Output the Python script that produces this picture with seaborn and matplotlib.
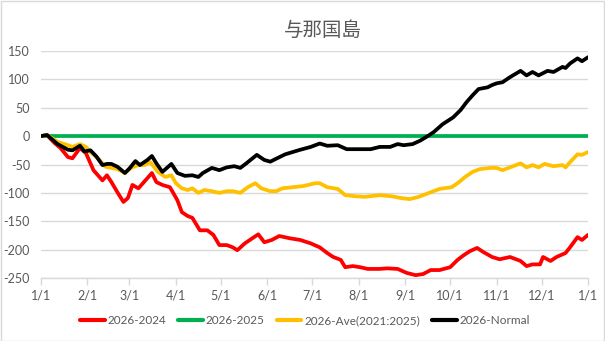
import numpy as np
import pandas as pd
import matplotlib
matplotlib.use("Agg")
import matplotlib.pyplot as plt
import seaborn as sns

# Cumulative difference series (day of year -> value)
RED_DAYS = [0, 4, 9, 13, 18, 21, 26, 30, 33, 35, 39, 41, 44, 47, 51, 55, 58, 61, 65, 68,
            74, 77, 81, 86, 88, 91, 94, 98, 101, 106, 111, 115, 119, 124, 128, 131, 136,
            141, 145, 149, 154, 159, 166, 173, 180, 186, 191, 195, 200, 203, 208, 213,
            218, 226, 231, 238, 244, 250, 255, 260, 266, 273, 278, 282, 286, 291, 295,
            301, 306, 313, 320, 324, 328, 333, 335, 340, 344, 350, 353, 358, 361, 365]
RED_VALS = [0, 2, -12, -21, -37, -39, -21, -30, -48, -60, -72, -78, -69, -81, -99, -116,
            -109, -86, -92, -83, -65, -81, -86, -90, -99, -113, -134, -141, -144, -166,
            -166, -174, -192, -192, -196, -201, -189, -180, -173, -187, -183, -176, -180,
            -183, -189, -196, -206, -213, -218, -231, -229, -231, -234, -234, -233, -234,
            -241, -245, -243, -236, -236, -231, -218, -210, -203, -197, -204, -213, -217,
            -213, -220, -229, -226, -226, -213, -220, -213, -206, -196, -178, -183, -174]

GREEN_DAYS = [0, 365]
GREEN_VALS = [0, 0]

YEL_DAYS = [0, 4, 11, 18, 21, 26, 30, 33, 38, 43, 47, 51, 56, 60, 65, 69, 73, 78, 83, 87,
            90, 94, 98, 101, 105, 109, 114, 119, 124, 128, 133, 138, 143, 147, 153, 157,
            161, 168, 175, 183, 186, 191, 198, 203, 210, 216, 226, 234, 240, 246, 252,
            259, 266, 274, 278, 283, 288, 293, 300, 304, 308, 313, 320, 324, 328, 332,
            336, 342, 348, 350, 353, 358, 361, 365]
YEL_VALS = [0, 2, -10, -16, -19, -14, -19, -28, -39, -54, -56, -58, -65, -56, -51, -51,
            -46, -63, -72, -69, -83, -92, -95, -92, -100, -95, -97, -100, -97, -97, -100,
            -90, -83, -92, -97, -97, -92, -90, -88, -83, -83, -90, -93, -104, -106, -107,
            -104, -106, -109, -111, -107, -100, -93, -90, -83, -72, -63, -58, -56, -56,
            -60, -55, -48, -55, -51, -55, -49, -53, -51, -55, -46, -32, -33, -28]

BLK_DAYS = [0, 4, 11, 18, 21, 26, 29, 33, 37, 41, 44, 47, 51, 56, 59, 63, 66, 71, 74, 77,
            81, 87, 91, 96, 101, 105, 108, 114, 119, 124, 129, 133, 137, 144, 149, 153,
            156, 163, 168, 173, 180, 186, 191, 198, 204, 212, 220, 226, 233, 238, 242,
            248, 253, 258, 262, 268, 275, 280, 284, 288, 292, 298, 301, 304, 308, 313,
            320, 324, 328, 332, 338, 342, 348, 350, 353, 358, 361, 365]
BLK_VALS = [0, 2, -14, -24, -25, -17, -27, -25, -36, -51, -49, -49, -54, -65, -57, -44,
            -51, -42, -35, -48, -63, -49, -65, -70, -69, -72, -65, -56, -60, -55, -53, -56,
            -48, -33, -42, -45, -41, -32, -28, -24, -19, -13, -17, -16, -23, -23, -23, -19,
            -19, -14, -16, -14, -8, 0, 7, 21, 33, 46, 60, 72, 83, 86, 90, 93, 95, 104, 115,
            107, 113, 107, 115, 113, 122, 120, 128, 137, 132, 139]

SERIES = [
    ("2026-2024", RED_DAYS, RED_VALS, "#FF0000"),
    ("2026-2025", GREEN_DAYS, GREEN_VALS, "#00B050"),
    ("2026-Ave(2021:2025)", YEL_DAYS, YEL_VALS, "#FFC000"),
    ("2026-Normal", BLK_DAYS, BLK_VALS, "#000000"),
]

TITLE = "与那国島"
Y_TICKS = [-250, -200, -150, -100, -50, 0, 50, 100, 150]
X_TICK_LABELS = ["1/1", "2/1", "3/1", "4/1", "5/1", "6/1", "7/1", "8/1", "9/1",
                 "10/1", "11/1", "12/1", "1/1"]

sns.set_theme(style="white")
plt.rcParams["font.family"] = ["Lato", "Noto Sans CJK JP", "DejaVu Sans"]

TXT = "#595959"
GRID = "#D9D9D9"

fig = plt.figure(figsize=(6.05, 3.41), dpi=100)
ax = fig.add_axes([41 / 605, 1 - 278 / 341, 547 / 605, 227 / 341])

frames = []
for name, days, vals, color in SERIES:
    frames.append(pd.DataFrame({"day": days, "value": vals, "series": name}))
df = pd.concat(frames, ignore_index=True)

palette = {name: color for name, _, _, color in SERIES}
sns.lineplot(data=df, x="day", y="value", hue="series", palette=palette,
             hue_order=[s[0] for s in SERIES], linewidth=2.7, ax=ax,
             estimator=None, sort=True, legend=True)

month_starts = pd.date_range("2026-01-01", "2027-01-01", freq="MS")
tick_pos = [(d - pd.Timestamp("2026-01-01")).days for d in month_starts]
ax.set_xticks(tick_pos)
ax.set_xticklabels(X_TICK_LABELS)
ax.set_xlim(0, 365)
ax.set_ylim(-250, 150)
ax.set_yticks(Y_TICKS)
ax.set_yticklabels([str(v) for v in Y_TICKS])
ax.set_xlabel("")
ax.set_ylabel("")

ax.grid(axis="y", color=GRID, linewidth=1.0)
ax.set_axisbelow(True)
for side in ["top", "right", "left"]:
    ax.spines[side].set_visible(False)
ax.spines["bottom"].set_color(GRID)
ax.spines["bottom"].set_linewidth(1.0)
ax.tick_params(axis="x", which="major", bottom=True, length=5, width=1.0,
               color=GRID, direction="out", pad=3, labelsize=9, labelcolor=TXT)
ax.tick_params(axis="y", left=False, length=0, pad=8, labelsize=9, labelcolor=TXT)

fig.text(323 / 605, 1 - 30 / 341, TITLE, ha="center", va="center",
         fontsize=14, color=TXT, family=["Noto Sans CJK JP", "DejaVu Sans"])

handles, labels = ax.get_legend_handles_labels()
ax.legend_.remove()
leg = fig.legend(handles, labels, loc="center", bbox_to_anchor=(305 / 605, 1 - 321 / 341),
                 ncol=4, frameon=False, fontsize=8.5, handlelength=2.1,
                 handletextpad=0.25, columnspacing=1.0, labelcolor=TXT)
for h in leg.get_lines():
    h.set_linewidth(3.0)

fig.patches.append(plt.Rectangle((0.5 / 605, 0.5 / 341), 603.5 / 605, 339.5 / 341,
                                 transform=fig.transFigure, fill=False,
                                 edgecolor=GRID, linewidth=1.0))

fig.savefig("out.png", dpi=100)
